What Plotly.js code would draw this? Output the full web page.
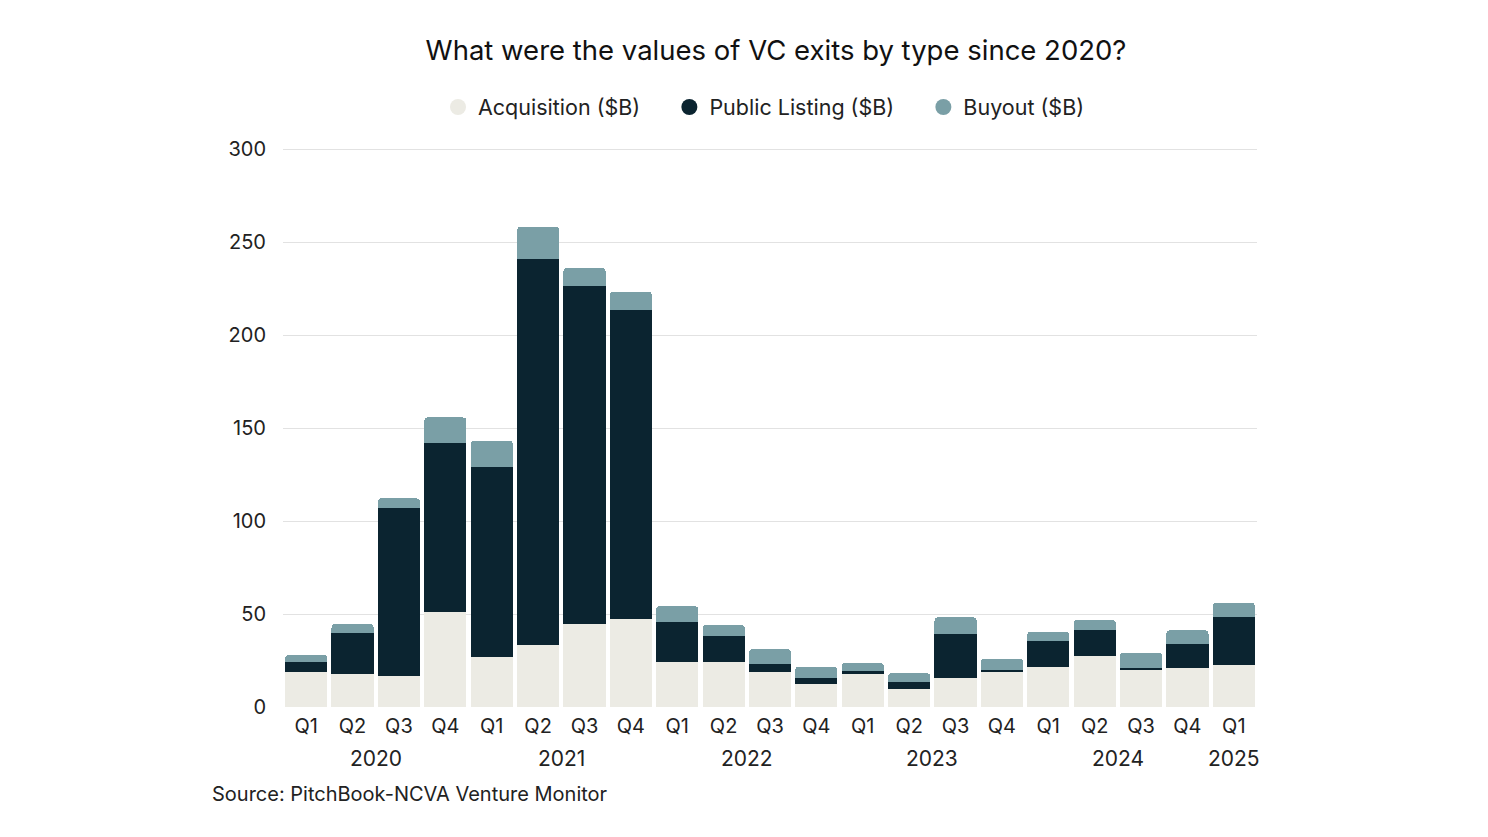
<!DOCTYPE html>
<html>
<head>
<meta charset="utf-8">
<script src="https://cdn.plot.ly/plotly-3.0.1.min.js"></script>
<style>
  html, body { margin: 0; padding: 0; background: #ffffff; }
  #chart { width: 1488px; height: 837px; }
</style>
</head>
<body>
<div id="chart"></div>
<script>
// ---- Data (values in $B) ----
const quarters = ["Q1","Q2","Q3","Q4","Q1","Q2","Q3","Q4","Q1","Q2","Q3","Q4","Q1","Q2","Q3","Q4","Q1","Q2","Q3","Q4","Q1"];
const years = ["2020","2021","2022","2023","2024","2025"];
const yearCenters = [1.5, 5.5, 9.5, 13.5, 17.5, 20];
const acquisition = [19.0, 17.6, 16.7, 51.0, 26.7, 33.2, 44.6, 47.3, 24.0, 24.0, 18.8, 12.2, 17.6, 9.9, 15.6, 18.8, 21.3, 27.4, 19.7, 21.0, 22.6];
const publicListing = [5.4, 22.4, 90.5, 90.8, 102.5, 207.5, 181.7, 166.1, 21.9, 14.2, 4.3, 3.2, 1.8, 3.5, 23.5, 1.1, 14.2, 14.2, 1.3, 12.7, 25.6];
const buyout = [3.6, 4.6, 5.0, 13.9, 14.0, 17.5, 9.9, 9.9, 8.4, 5.9, 8.1, 6.3, 4.3, 4.9, 9.1, 6.1, 5.0, 5.3, 8.2, 7.5, 7.9];
const seriesNames = ["Acquisition ($B)", "Public Listing ($B)", "Buyout ($B)"];
const seriesColors = ["#ECEBE4", "#0B2430", "#7A9FA6"];

const xIdx = quarters.map((_, i) => i);
const fontFam = "Inter, 'Open Sans', sans-serif";
const pad = "\u00a0\u00a0\u00a0\u00a0";

const barTraces = [acquisition, publicListing, buyout].map((vals, k) => ({
  type: "bar",
  x: xIdx,
  y: vals,
  name: seriesNames[k],
  marker: { color: seriesColors[k], line: { width: 0 } },
  showlegend: false,
  hoverinfo: "x+y+name"
}));

// legend entries with round markers
const legendTraces = seriesNames.map((n, k) => ({
  type: "scatter",
  mode: "markers",
  x: [null],
  y: [null],
  name: k < seriesNames.length - 1 ? n + pad : n,
  marker: { color: seriesColors[k], size: 22, symbol: "circle" },
  showlegend: true
}));

const W = 1488, H = 837, mL = 283, mR = 231, mT = 147, mB = 130;
const plotW = W - mL - mR;
const plotH = H - mT - mB;

const annotations = years.map((yr, i) => ({
  x: yearCenters[i],
  y: 0,
  xref: "x",
  yref: "paper",
  yshift: -37,
  text: yr,
  showarrow: false,
  font: { family: fontFam, size: 21, color: "#222222" },
  xanchor: "center",
  yanchor: "top"
}));
annotations.push({
  x: (210 - mL) / plotW,
  y: (H - mB - 794) / plotH,
  xref: "paper",
  yref: "paper",
  text: "Source: PitchBook-NCVA Venture Monitor",
  showarrow: false,
  font: { family: fontFam, size: 20, color: "#222222" },
  xanchor: "left",
  yanchor: "middle"
});

const layout = {
  width: W,
  height: H,
  paper_bgcolor: "#ffffff",
  plot_bgcolor: "#ffffff",
  margin: { l: mL, r: mR, t: mT, b: mB, pad: 0 },
  barmode: "stack",
  bargap: 0.09,
  barcornerradius: 4,
  title: {
    text: "What were the values of VC exits by type since 2020?",
    font: { family: fontFam, size: 27.5, color: "#111111" },
    xref: "paper",
    x: (776 - mL) / plotW,
    xanchor: "center",
    y: 1 - 50 / H,
    yanchor: "middle"
  },
  legend: {
    orientation: "h",
    x: (764 - mL) / plotW,
    xanchor: "center",
    y: 1 + (mT - 107) / plotH,
    yanchor: "middle",
    font: { family: fontFam, size: 21.5, color: "#222222" },
    itemsizing: "trace",
    traceorder: "normal"
  },
  xaxis: {
    tickmode: "array",
    tickvals: xIdx,
    ticktext: quarters,
    range: [-0.5, 20.5],
    showgrid: false,
    zeroline: false,
    showline: false,
    ticks: "outside",
    ticklen: 1,
    tickcolor: "rgba(0,0,0,0)",
    tickfont: { family: fontFam, size: 20, color: "#222222" },
    fixedrange: true
  },
  yaxis: {
    range: [0, 300 * plotH / 558],
    tickvals: [0, 50, 100, 150, 200, 250, 300],
    showgrid: true,
    gridcolor: "#E2E2E2",
    gridwidth: 1,
    zeroline: false,
    showline: false,
    ticks: "outside",
    ticklen: 12,
    tickcolor: "rgba(0,0,0,0)",
    tickfont: { family: fontFam, size: 20, color: "#222222" },
    fixedrange: true
  },
  annotations: annotations
};

Plotly.newPlot("chart", barTraces.concat(legendTraces), layout, { displayModeBar: false, staticPlot: true });
</script>
</body>
</html>
